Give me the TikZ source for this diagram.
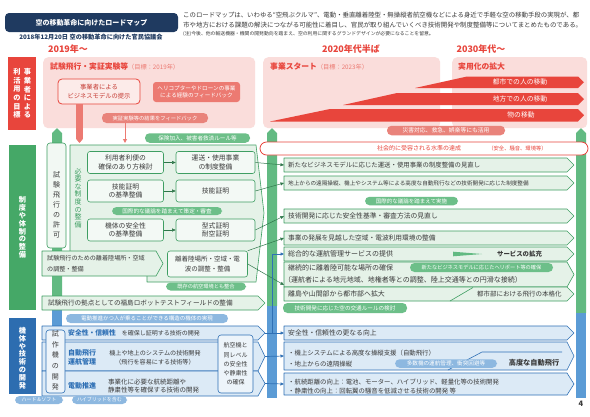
\documentclass[tikz,border=0pt]{standalone}
\usepackage{fontspec}
\setmainfont{Noto Sans CJK JP}
\usetikzlibrary{arrows.meta,positioning}

\definecolor{navy}{HTML}{1F3A60}
\definecolor{rmain}{HTML}{E8453C}
\definecolor{rsoft}{HTML}{EC7A72}
\definecolor{rpink}{HTML}{FADDDB}
\definecolor{rtag}{HTML}{E9837B}
\definecolor{gmain}{HTML}{45A867}
\definecolor{gbar}{HTML}{62BA82}
\definecolor{gline}{HTML}{3E9E62}
\definecolor{glight}{HTML}{E5F2E8}
\definecolor{gpill}{HTML}{6DBF89}
\definecolor{bmain}{HTML}{2D6DB0}
\definecolor{bbar}{HTML}{5B9BD5}
\definecolor{bline}{HTML}{2F70B5}
\definecolor{blight}{HTML}{DCEAF6}
\definecolor{bpill}{HTML}{8DB8E0}
\definecolor{ink}{HTML}{3A3A3A}

\newcommand\fsz[2]{\fontsize{#1}{#2}\selectfont}
% chevron row: [style]{name}{left}{top}{right}{bottom}
\newcommand\chevbox[6][greenrow]{%
  \draw[#1] (#3,#4) -- (#5,#4) -- ({#5+7},{(#4+#6)/2}) -- (#5,#6) -- (#3,#6) -- cycle;
  \coordinate (#2-in) at (#3,{(#4+#6)/2});
  \coordinate (#2-tip) at ({#5+7},{(#4+#6)/2});}

\tikzset{
  lbl/.style={inner sep=0pt, text=ink},
  rowtxt/.style={lbl, anchor=west, align=left, font=\fsz{6.5}{8}},
  vtxt/.style={lbl, align=center},
  greenrow/.style={draw=gline, fill=glight, line width=0.6pt, line join=round},
  bluerow/.style={draw=bline, fill=blight, line width=0.6pt, line join=round},
  tagbox/.style={rounded corners=4.5pt, inner sep=0pt, text=white},
  gtag/.style={tagbox, fill=gpill},
  btag/.style={tagbox, fill=bpill},
  rtagbox/.style={tagbox, fill=rtag},
  sysbox/.style={draw=gline, fill=white!55!glight, rounded corners=2.5pt, line width=0.6pt,
    minimum width=76pt, minimum height=22pt, align=center, inner sep=0pt, text=ink, font=\fsz{6.8}{8.6}},
  phasebox/.style={fill=rpink, rounded corners=5pt, anchor=north west, inner sep=0pt},
  phasehd/.style={lbl, anchor=west, text=rmain, font=\bfseries\fsz{7.8}{9}},
  yearhd/.style={lbl, text=rmain, font=\bfseries\fsz{9}{10}},
  grarrow/.style={draw=gline!75!black, line width=0.5pt, -{Triangle[length=3.5pt,width=3pt]}},
  blarrow/.style={draw=bline, line width=0.7pt, -{Triangle[length=3.5pt,width=3pt]}},
  redbar/.style={draw=rsoft, line width=6.5pt, -{Triangle[length=4pt,width=6.5pt]}},
  redthin/.style={draw=rsoft, line width=1pt, -{Triangle[length=4pt,width=4pt]}},
  wedgetxt/.style={lbl, text=white, font=\fsz{6.8}{8}},
}

\begin{document}
\begin{tikzpicture}[x=1pt,y=1pt,yscale=-1]
\useasboundingbox (0,0) rectangle (590,416);
\fill[white] (0,0) rectangle (590,416);

% header
\node[fill=navy, rounded corners=4pt, minimum width=173pt, minimum height=19pt, inner sep=0pt,
  text=white, font=\bfseries\fsz{7}{8}] (title) at (91.5,22.5) {空の移動革命に向けたロードマップ};
\node[lbl, text=navy, font=\bfseries\fsz{6.2}{7}] (date) at (91,37) {2018年12月20日 空の移動革命に向けた官民協議会};
\node[rowtxt, font=\fsz{6.4}{7}] (introA) at (183,15) {このロードマップは、いわゆる“空飛ぶクルマ”、電動・垂直離着陸型・無操縦者航空機などによる身近で手軽な空の移動手段の実現が、都};
\node[rowtxt, font=\fsz{6.45}{7}] (introB) at (183,25) {市や地方における課題の解決につながる可能性に着目し、官民が取り組んでいくべき技術開発や制度整備等についてまとめたものである。};
\node[rowtxt, font=\fsz{4.85}{6}] (introC) at (183,33.5) {(注)今後、他の輸送機器・機関の開発動向を踏まえ、空の利用に関するグランドデザインが必要になることを留意。};

\node[yearhd] (yA) at (68,49) {2019年〜};
\node[yearhd] (yB) at (351,49) {2020年代半ば};
\node[yearhd] (yC) at (481,49) {2030年代〜};

% vertical bars
\foreach \bx/\gy/\by in {52/303/345, 267/306/398, 576/313/398} {
  \fill[gbar] (\bx,\gy) -- (\bx,133) -- (\bx+5,128) -- (\bx+10,133) -- (\bx+10,\gy) -- cycle;
  \fill[bbar] (\bx,\gy) rectangle (\bx+10,\by);
}

% goals of operators
\node[fill=rmain, minimum width=28pt, minimum height=73pt, inner sep=0pt] (goallbl) at (22,93.5) {};
\node[vtxt, text=white, font=\bfseries\fsz{7.2}{8.6}] (goalR) at (27.5,93.5) {事\\業\\者\\に\\よ\\る};
\node[vtxt, text=white, font=\bfseries\fsz{7.2}{8.6}] (goalL) at (17,93.5) {利\\活\\用\\の\\目\\標};
\node[phasebox, minimum width=212pt, minimum height=71pt] (phA) at (43,57) {};
\node[phasebox, minimum width=177pt, minimum height=71pt] (phB) at (263,57) {};
\node[phasebox, minimum width=135pt, minimum height=71pt] (phC) at (452,57) {};
\node[phasehd] (phAhd) at (50,67) {試験飛行・実証実験等{\mdseries\fsz{6.2}{7}\color{rsoft}（目標：2019年）}};
\node[phasehd] (phBhd) at (270,67) {事業スタート{\mdseries\fsz{6.2}{7}\color{rsoft}（目標：2023年）}};
\node[phasehd] (phChd) at (458,67) {実用化の拡大};

% wedges
\fill[rmain] (270,121.5) -- (330,109) -- (578,109) -- (584,115.25) -- (578,121.5) -- cycle;
\fill[rmain] (343,105) -- (397,93) -- (578,93) -- (584,99) -- (578,105) -- cycle;
\fill[rmain] (415,88) -- (467,76.5) -- (578,76.5) -- (584,82.25) -- (578,88) -- cycle;
\node[wedgetxt] (cargo) at (521,115.25) {物の移動};
\node[wedgetxt] (rural) at (520,99) {地方での人の移動};
\node[wedgetxt] (urban) at (520,82.25) {都市での人の移動};
\node[rtagbox, minimum width=118pt, minimum height=9.5pt, font=\fsz{5.8}{6}] (disaster) at (446,130.5) {災害対応、救急、娯楽等にも活用};

\node[draw=rmain, fill=white!40!rpink, rounded corners=4pt, line width=0.8pt, minimum width=82pt, minimum height=25pt,
  inner sep=0pt, align=center, text=rmain!85!black, font=\fsz{6.3}{8.5}] (bizmodel) at (99,91.5) {事業者による\\ビジネスモデルの提示};
\node[rtagbox, fill=rsoft, rounded corners=3pt, minimum width=87pt, minimum height=20pt, align=center,
  font=\fsz{5.6}{7.5}] (heliexp) at (196.5,92) {ヘリコプターやドローンの事業\\による経験のフィードバック};
\node[rtagbox, minimum width=106pt, minimum height=10pt, font=\fsz{5.3}{6}] (feedback) at (155,118) {実証実験等の結果をフィードバック};

% institutions
\node[fill=gmain, minimum width=27pt, minimum height=165pt, inner sep=0pt] (govlbl) at (22.5,227.5) {};
\node[vtxt, text=white, font=\bfseries\fsz{7.2}{7.8}] (govtxt) at (22.5,227.5) {制\\度\\や\\体\\制\\の\\整\\備};

\draw[greenrow] (70,145) -- (256,145) -- (264,213) -- (256,282) -- (147,282) -- (147,252) -- (70,252) -- cycle;
\node[gtag, minimum width=105pt, minimum height=9.5pt, font=\fsz{5.6}{6}] (insurance) at (197.5,138) {保険加入、被害者救済ルール等};
\node[draw=gline, fill=white!50!glight, rounded corners=3pt, line width=0.6pt, minimum width=19pt, minimum height=105pt,
  inner sep=0pt] (permit) at (56.5,195.5) {};
\node[vtxt, font=\fsz{7}{10}] (permittxt) at (56.5,205) {試\\験\\飛\\行\\の\\許\\可};
\node[vtxt, text=gline, font=\fsz{7}{7.6}] (needtxt) at (78,198) {必\\要\\な\\制\\度\\の\\整\\備};

\node[sysbox] (userconv) at (125.5,162.5) {利用者利便の\\確保のあり方検討};
\node[sysbox, minimum width=79pt] (transreg) at (215.5,162.5) {運送・使用事業\\の制度整備};
\node[sysbox] (skillstd) at (125.5,191) {技能証明\\の基準整備};
\node[sysbox, minimum width=79pt] (skillcert) at (215.5,191) {技能証明};
\node[gtag, minimum width=110pt, minimum height=8pt, font=\fsz{5.6}{6}] (intlA) at (167,211) {国際的な議論を踏まえて策定・審査};
\node[sysbox] (safestd) at (125.5,230) {機体の安全性\\の基準整備};
\node[sysbox, minimum width=79pt] (typecert) at (215.5,230) {型式証明\\耐空証明};

\chevbox{site}{42}{251}{156}{276}
\node[rowtxt, font=\fsz{6.1}{11.5}] (sitetxt) at (47,263.5) {試験飛行のための離着陸場所・空域\\の調整・整備};
\node[sysbox, minimum width=80pt, minimum height=26pt, font=\fsz{6.5}{10}] (portarea) at (207.5,264) {離着陸場所・空域・電\\波の調整・整備};
\node[gtag, minimum width=80pt, minimum height=8pt, font=\fsz{5.2}{6}] (existing) at (206,286.5) {既存の航空環境とも整合};
\chevbox{fukushima}{42}{296}{258}{310}
\node[rowtxt, font=\fsz{6.6}{8}] (fukutxt) at (48,303) {試験飛行の拠点としての福島ロボットテストフィールドの整備};

% technology
\node[fill=bmain, minimum width=27pt, minimum height=76pt, inner sep=0pt] (techlbl) at (22.5,356) {};
\node[vtxt, text=white, font=\bfseries\fsz{7.2}{7.8}] (techtxt) at (22.5,358) {機\\体\\や\\技\\術\\の\\開\\発};
\node[btag, minimum width=162pt, minimum height=9pt, font=\fsz{5.5}{6}] (evtvl) at (147,318.5) {電動推進かつ人が乗ることができる構造の機体の実現};
\chevbox[bluerow]{safedev}{42}{326}{258}{340}
\chevbox[bluerow]{autodev}{42}{342}{258}{371}
\chevbox[bluerow]{motordev}{42}{371}{258}{396}
\node[rowtxt, font=\fsz{6}{7}] (safetxt) at (68,333) {{\bfseries\fsz{6.8}{8}\color{bline}安全性・信頼性}\hspace{6pt}を確保し証明する技術の開発};
\node[rowtxt, text=bline, font=\bfseries\fsz{7}{9.5}] (autohd) at (68,357.5) {自動飛行\\運航管理};
\node[lbl, align=center, font=\fsz{6.1}{9.5}] (autotxt) at (155,357.5) {機上や地上のシステムの技術開発\\（飛行を容易にする技術等）};
\node[rowtxt, text=bline, font=\bfseries\fsz{7}{8}] (motorhd) at (68,386) {電動推進};
\node[rowtxt, font=\fsz{6.5}{8.5}] (motortxt) at (108,386) {事業化に必要な航続距離や\\静粛性等を確保する技術の開発};
\node[draw=bline, fill=white!50!blight, rounded corners=3pt, line width=0.6pt, minimum width=19pt, minimum height=63pt,
  inner sep=0pt] (proto) at (55.5,361.5) {};
\node[vtxt, font=\fsz{7}{10.6}] (prototxt) at (55.5,360.5) {試\\作\\機\\の\\開\\発};
\node[draw=bline, fill=white!50!blight, rounded corners=3pt, line width=0.6pt, minimum width=35pt, minimum height=58pt,
  inner sep=0pt, align=center, text=ink, font=\fsz{6}{9.2}] (parity) at (235.5,364) {航空機と\\同レベル\\の安全性\\や静粛性\\の確保};
\node[btag, minimum width=48pt, minimum height=8pt, font=\fsz{5}{6}] (hardsoft) at (39,400) {ハード＆ソフト};
\node[btag, minimum width=55pt, minimum height=8pt, font=\fsz{5}{6}] (hybrid) at (99.5,400) {ハイブリッドを含む};

% right side
\node[draw=rmain, fill=white, rounded corners=6.5pt, line width=0.8pt, minimum width=328pt, minimum height=13pt,
  inner sep=0pt] (social) at (424,148.5) {};
\node[lbl, text=rmain, font=\fsz{6}{7}] (socialtxt) at (419,148.5) {社会的に受容される水準の達成};
\node[lbl, text=rmain, font=\fsz{5.3}{6}] (socialnote) at (517.5,148.5) {（安全、騒音、環境等）};

\chevbox{cA}{284}{158}{567}{172}
\node[rowtxt, font=\fsz{6.4}{8}] (cAtxt) at (288,165) {新たなビジネスモデルに応じた運送・使用事業の制度整備の見直し};
\chevbox{cB}{284}{176}{567}{190}
\node[rowtxt, font=\fsz{5.6}{7}] (cBtxt) at (288,183) {地上からの遠隔操縦、機上やシステム等による高度な自動飛行などの技術開発に応じた制度整備};
\node[gtag, minimum width=93pt, minimum height=8.5pt, font=\fsz{5.5}{6}] (intlB) at (411.5,201) {国際的な議論を踏まえて実施};
\chevbox{cC}{284}{209}{567}{223}
\node[rowtxt, font=\fsz{6.8}{8}] (cCtxt) at (288,216) {技術開発に応じた安全性基準・審査方法の見直し};
\chevbox{cD}{284}{231}{567}{245}
\node[rowtxt, font=\fsz{6.7}{8}] (cDtxt) at (288,238) {事業の発展を見越した空域・電波利用環境の整備};
\chevbox{cE}{284}{247}{567}{261}
\node[rowtxt, font=\fsz{7}{8}] (cEtxt) at (288,254) {総合的な運航管理サービスの提供};
\fill[gbar] (453,251.7) -- (482,254) -- (453,256.3) -- cycle;
\node[lbl, font=\bfseries\fsz{6.4}{8}] (cEmore) at (519.5,254) {サービスの拡充};
\chevbox{cF}{284}{262}{567}{287}
\node[rowtxt, font=\fsz{7}{8}] (cFtxt) at (288,268) {継続的に離着陸可能な場所の確保};
\node[gtag, minimum width=143pt, minimum height=9pt, font=\fsz{5.2}{6}] (heliport) at (481.5,267.5) {新たなビジネスモデルに応じたヘリポート等の確保};
\node[rowtxt, font=\fsz{7}{8}] (cFsub) at (284,280) {（運航者による地元地域、地権者等との調整、陸上交通等との円滑な接続）};
\chevbox{cG}{284}{287}{567}{301}
\node[rowtxt, font=\fsz{6.9}{8}] (cGtxt) at (288,294) {離島や山間部から都市部へ拡大};
\draw[gline, line width=0.6pt] (450,301) -- (473,287.5);
\node[rowtxt, font=\fsz{6.5}{8}] (cGmore) at (477,294) {都市部における飛行の本格化};
\node[gtag, minimum width=124pt, minimum height=10pt, font=\fsz{5.6}{6}] (airrules) at (345,308) {技術開発に応じた空の交通ルールの検討};

\chevbox[bluerow]{cH}{284}{326}{567}{340}
\node[rowtxt, font=\fsz{6.8}{8}] (cHtxt) at (288,333) {安全性・信頼性の更なる向上};
\chevbox[bluerow]{cI}{284}{342}{567}{370}
\node[rowtxt, font=\fsz{6.4}{11}] (cItxt) at (288,358.5) {・機上システムによる高度な操縦支援（自動飛行）\\・地上からの遠隔操縦};
\draw[bline, line width=0.6pt] (448,370) -- (482,352) -- (562,352);
\node[btag, minimum width=102pt, minimum height=8.5pt, font=\fsz{5.6}{6}] (multi) at (446,363.5) {多数機の運航管理、衝突回避等};
\node[lbl, font=\bfseries\fsz{7.2}{8}] (cImore) at (534,363) {高度な自動飛行};
\chevbox[bluerow]{cJ}{284}{373}{567}{395}
\node[rowtxt, font=\fsz{6.4}{9}] (cJtxt) at (288,386.5) {・航続距離の向上：電池、モーター、ハイブリッド、軽量化等の技術開発\\・静粛性の向上：回転翼の騒音を低減させる技術の開発 等};

\node[lbl, font=\bfseries\fsz{7.5}{8}] (pageno) at (581,404) {4};

% connectors
\coordinate (bizfoot) at (79.5,143);
\coordinate (fbfoot) at (125,143);
\coordinate (portfoot) at (284,285);
\coordinate (split) at (272,333);
\draw[redbar] (bizmodel.south -| bizfoot) -- (bizfoot);
\draw[redthin] (feedback.south -| fbfoot) -- (fbfoot);
\draw[grarrow] (userconv) -- (transreg);
\draw[grarrow] (skillstd) -- (skillcert);
\draw[grarrow] (safestd) -- (typecert);
\draw[grarrow] (transreg.east) -- (cA-in);
\draw[grarrow] (skillcert.east) -- (cB-in);
\draw[grarrow] (typecert.east) -- (cC-in);
\draw[grarrow] (portarea.north east) -- (cD-in);
\draw[grarrow] (portarea.east) -- (portfoot);
\draw[blarrow] (split) |- (cE-in);
\draw[blarrow] (safedev-tip) -- (cH-in);
\draw[blarrow] (autodev-tip) -- (cI-in);
\draw[blarrow] (motordev-tip) -- (cJ-in);

\end{tikzpicture}
\end{document}
